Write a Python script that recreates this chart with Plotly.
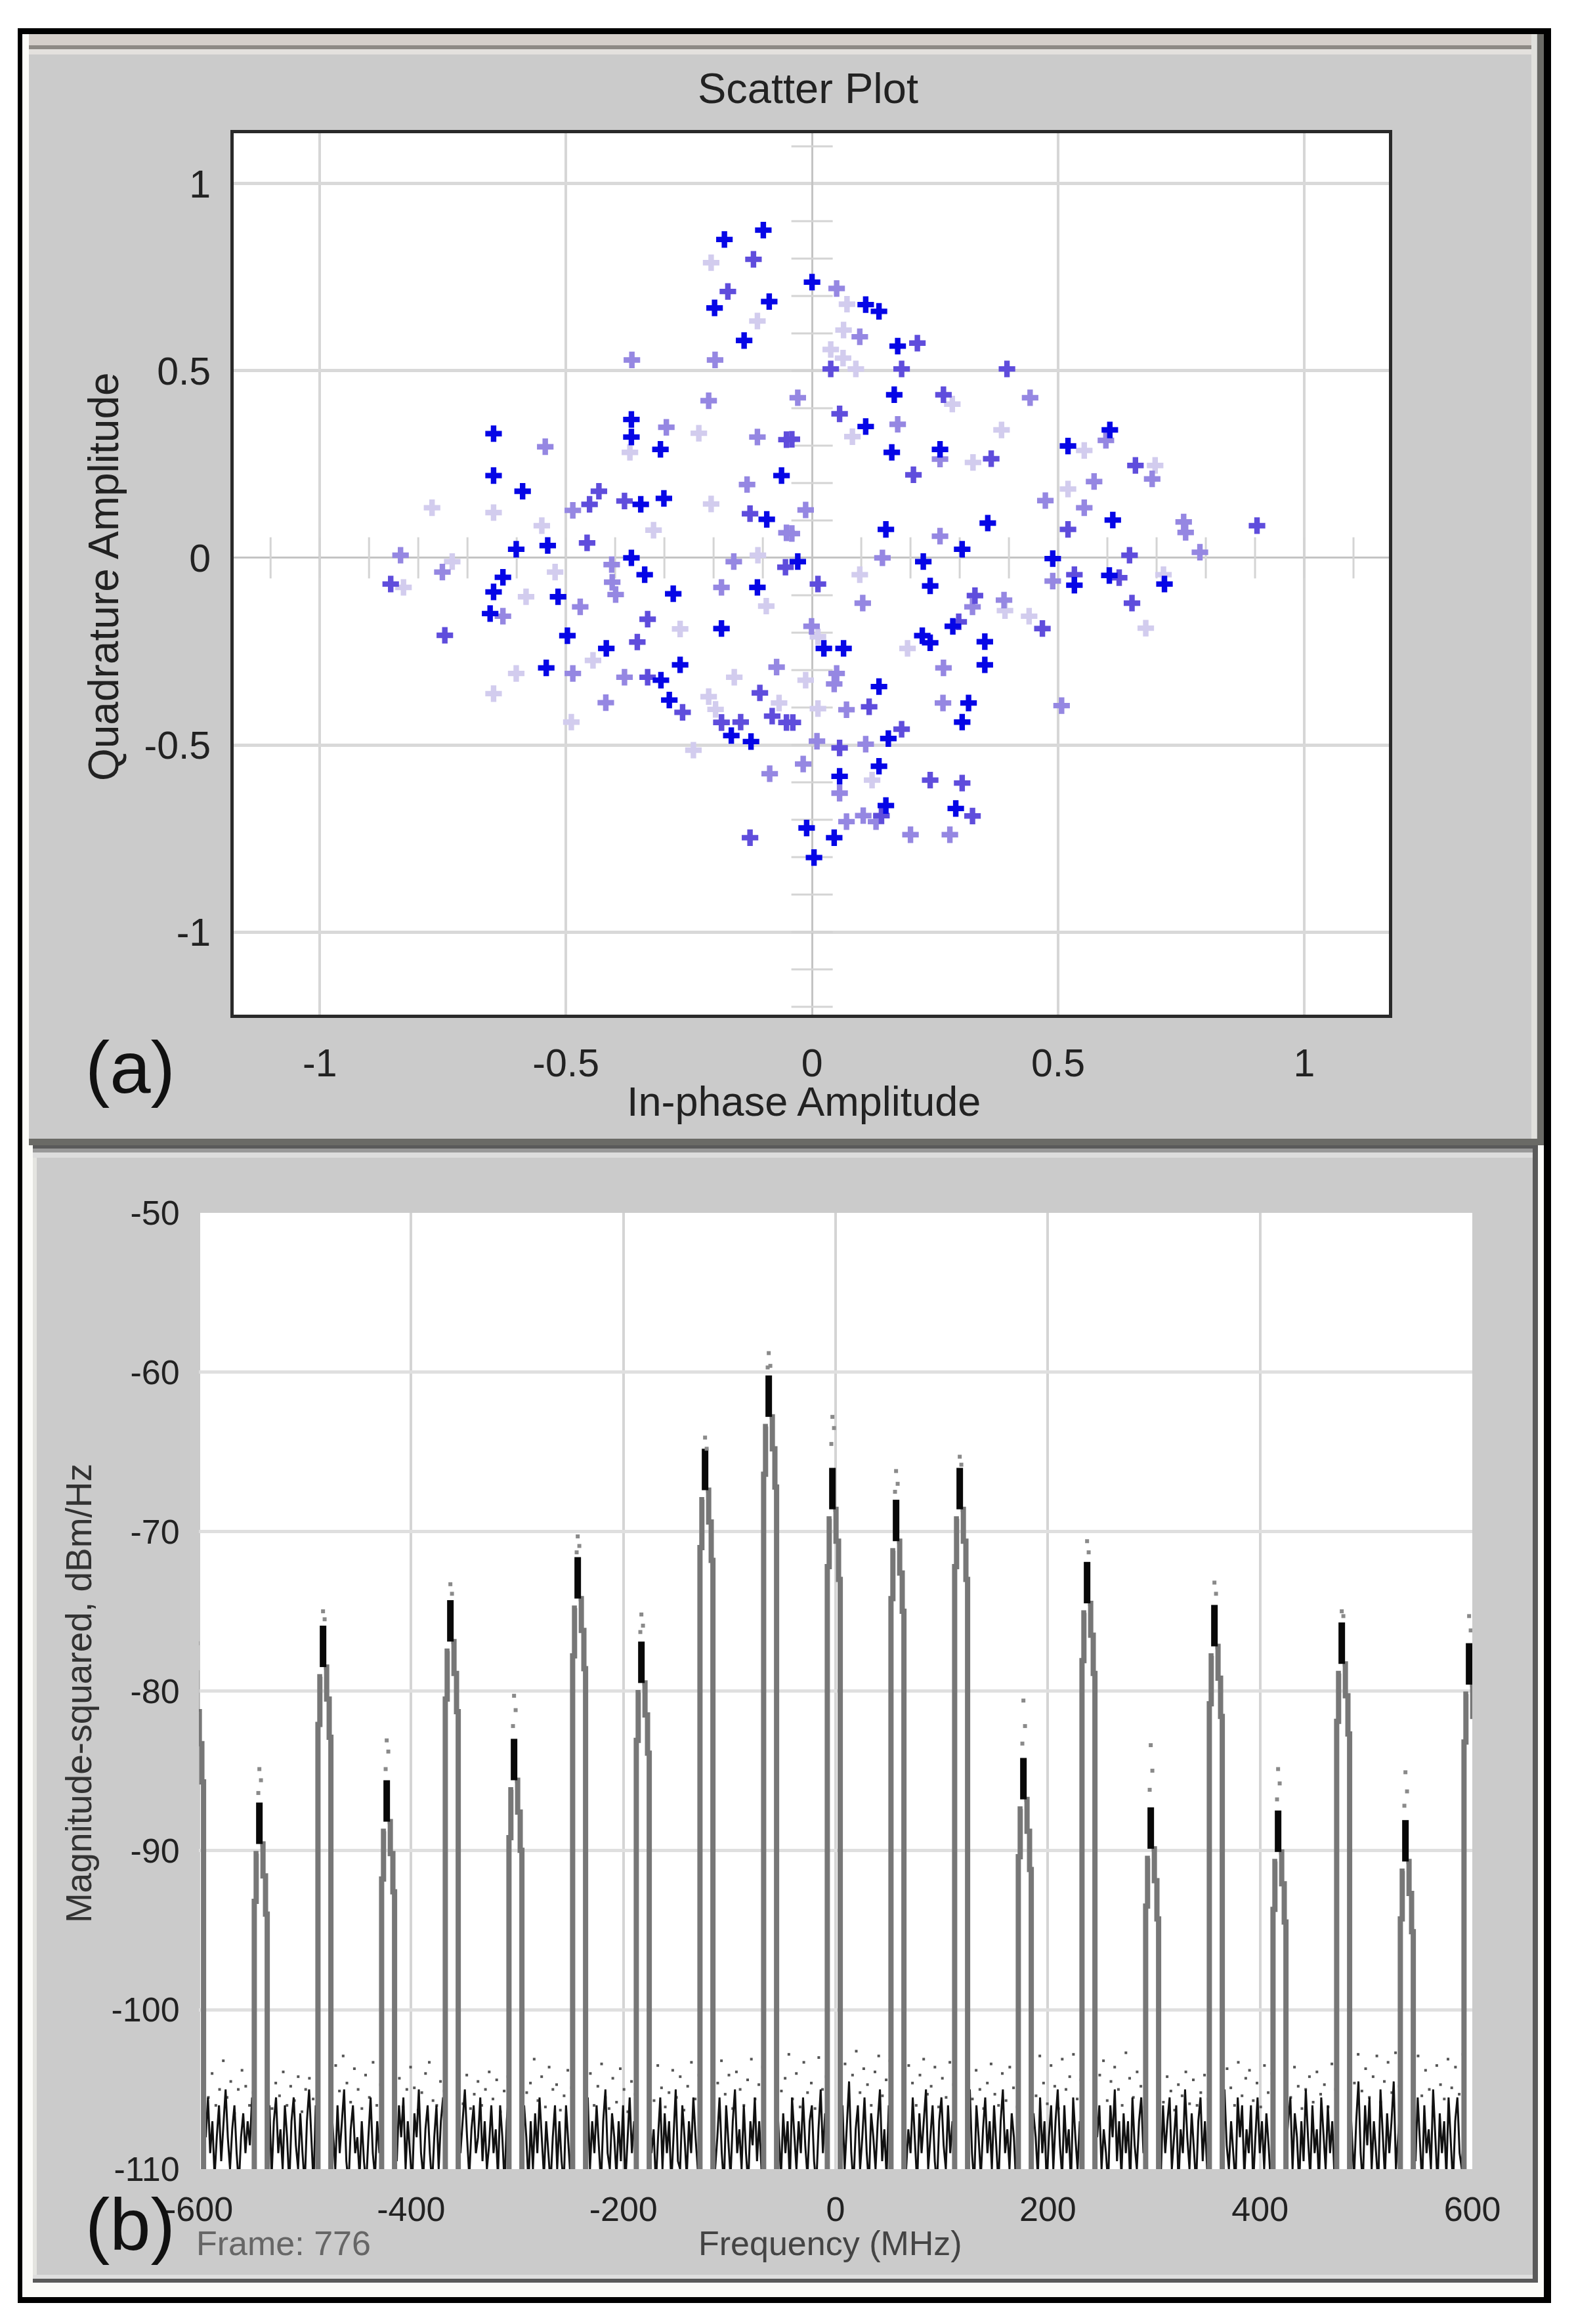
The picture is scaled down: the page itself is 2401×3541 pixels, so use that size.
import plotly.graph_objects as go
import numpy as np

W, H = 2401, 3541

# ---- (a) scatter plot: points, grouped by marker intensity
dark_x = [-.178,-.099,-.087,-.198,-.138,-.367,-.367,-.308,-.647,-.647,-.062,-.588,-.348,-.301,-.092,-.601,-.537,-.367,-.34,-.628,-.111,-.647,-.516,-.282,-.654,-.184,-.497,-.418,-.54,-.268,-.307,-.29,-.164,-.124,0,.109,.136,.174,.167,.109,.52,.605,.162,.611,.357,.15,.305,.489,.226,-.029,.604,.716,.24,.533,.286,.224,.24,.351,.024,.064,.351,.136,.318,.305,.155,.136,.056,.15,.292,-.011,.045,.004,.26]
dark_y = [.851,.876,.685,.668,.581,.37,.323,.29,.332,.22,.22,.178,.143,.159,.103,.023,.033,0,-.045,-.052,-.079,-.091,-.104,-.096,-.149,-.189,-.208,-.242,-.294,-.286,-.327,-.38,-.475,-.491,.737,.677,.659,.566,.436,.351,.299,.342,.282,.101,.093,.076,.023,-.002,-.01,-.01,-.047,-.07,-.075,-.073,-.183,-.208,-.227,-.224,-.242,-.242,-.286,-.344,-.388,-.439,-.483,-.557,-.584,-.662,-.67,-.722,-.748,-.801,.29]
mid_x = [-.119,-.171,-.052,-.433,-.452,-.381,-.126,-.457,-.054,-.856,-.334,-.746,-.355,-.334,-.106,-.263,-.081,-.145,-.184,-.126,-.052,.214,.038,.182,.396,.267,.056,-.041,.364,.657,.206,.904,.52,.645,.533,.624,.012,.331,.65,.468,.298,.116,-.039,.182,.056,.24,.305,.326,.141]
mid_y = [.798,.712,.316,.178,.143,.152,.118,.04,-.025,-.07,-.164,-.207,-.225,-.319,-.361,-.413,-.423,-.439,-.44,-.748,-.44,.574,.505,.505,.505,.436,.385,.317,.265,.247,.222,.086,.076,.007,-.045,-.053,-.07,-.101,-.121,-.189,-.171,-.398,-.44,-.458,-.508,-.594,-.602,-.69,-.689]
light_x = [-.366,-.197,-.21,-.296,-.111,-.542,-.132,-.486,-.052,-.836,-.751,-.407,-.159,-.406,-.399,-.184,-.471,-.628,-.486,-.381,-.072,-.419,-.184,-.086,.05,.097,.443,-.029,.174,.26,.691,.573,.474,.553,-.013,.755,.759,.26,-.041,.788,.489,.103,.326,.39,-.001,.267,.05,.045,.07,.266,.507,.01,.109,-.018,.056,.104,.07,.13,.2,.28,.143,.597]
light_y = [.529,.529,.42,.349,.323,.297,.196,.127,.067,.007,-.038,-.018,-.01,-.065,-.098,-.079,-.131,-.156,-.309,-.319,-.292,-.387,-.44,-.577,.72,.591,.428,.428,.357,.264,.211,.204,.153,.134,.128,.096,.068,.058,.065,.015,-.062,-.121,-.131,-.113,-.183,-.294,-.309,-.337,-.406,-.388,-.395,-.49,-.498,-.551,-.629,-.689,-.705,-.705,-.74,-.74,.0,.314]
faint_x = [-.205,-.111,-.23,-.37,-.205,-.772,-.647,-.549,-.322,-.731,-.522,-.11,-.83,-.581,-.093,-.268,-.445,-.601,-.158,-.647,-.21,-.067,-.196,-.489,-.241,.071,.064,.038,.063,.089,.285,.082,.385,.553,.327,.697,.52,.097,.714,.392,.441,.678,.012,.194,-.013,.012,.122]
faint_y = [.789,.633,.333,.282,.144,.134,.121,.086,.074,-.01,-.038,.007,-.079,-.104,-.129,-.19,-.274,-.309,-.319,-.363,-.371,-.388,-.405,-.439,-.514,.678,.609,.557,.534,.505,.411,.324,.342,.287,.255,.247,.184,-.045,-.045,-.141,-.156,-.188,-.211,-.242,-.327,-.403,-.594]
level_colors = ["#d2ccee", "#9587e2", "#5f4ddc", "#0606e6"]

tick_a_x = [-1.1,-1,-.9,-.8,-.7,-.6,-.5,-.4,-.3,-.2,-.1,.1,.2,.3,.4,.5,.6,.7,.8,.9,1,1.1]
tick_a_y = [1.1,.9,.8,.7,.6,.5,.4,.3,.2,.1,-.1,-.2,-.3,-.4,-.5,-.6,-.7,-.8,-.9,-1,-1.1,-1.2]

# ---- (b) spectrum: carrier peaks
peak_freq = [-603,-543,-483,-423,-363,-303,-243,-183,-123,-63,-3,57,117,177,237,297,357,417,477,537,597]
peak_top = [-78.7,-87,-75.9,-85.6,-74.3,-83,-71.6,-76.9,-64.8,-60.2,-66,-68,-66,-84.2,-71.9,-87.3,-74.6,-87.5,-75.7,-88.1,-77]

# dots that sit just above each peak (dB)
peak_dot_1 = [-75.6,-84.9,-75,-83.1,-73.3,-80.3,-70.3,-75.2,-64.1,-58.8,-62.8,-66.2,-65.3,-80.6,-70.6,-83.4,-73.2,-84.9,-75,-85.1,-75.3]
peak_dot_2 = [-77,-85.6,-75.5,-83.8,-73.9,-81.2,-70.9,-75.9,-64.8,-59.6,-63.5,-67,-65.8,-82.2,-71.3,-85,-73.9,-85.8,-75.3,-86.3,-76.2]
peak_dot_3 = [-78,-86.4,None,-84.9,None,-82.2,-71.3,-76.3,None,-59.7,-64.5,-67.5,None,-83.3,None,-86.2,None,-86.8,None,-87.2,None]

# ---- noise floor trace, one list per gap between neighbouring peaks (dB)
noise_floor = [
 [-106,-108,-105.5,-109,-107,-110.5,-108,-106,-109.5,-107,-105,-108,-110,-107.5,-106,-109,-111,-108,-106.5,-109,-107,-108.5,-105.5,-108],
 [-108,-106,-110.5,-107,-105.5,-109,-107.5,-110,-106,-108,-111,-107,-105.5,-108.5,-110,-106.5,-109,-111,-107,-105,-108,-111,-106,-109],
 [-105.5,-108,-110,-106,-109,-107,-105,-109.5,-111,-107.5,-106,-109,-108,-110.5,-107,-109.5,-111,-108,-105.5,-109,-110.5,-107,-109,-106],
 [-107,-109.5,-106,-108,-105.5,-110,-107,-109,-111,-106.5,-108,-105,-109,-110.5,-107.5,-106,-109,-111,-108,-106,-110,-107,-105.5,-108.5],
 [-106.5,-109,-107,-105,-108,-110.5,-107.5,-106,-109,-108,-105.5,-109.5,-107,-110,-108.5,-106,-109,-107.5,-110.5,-106,-108,-111,-107,-105],
 [-109,-106,-108,-111,-107,-110,-106.5,-109,-105.5,-108,-110.5,-107,-109,-111,-108,-106,-110,-107,-109.5,-111,-106,-108.5,-110.5,-105.5],
 [-108,-105.5,-110,-107,-109,-106,-108.5,-111,-107,-105,-109,-110,-106.5,-108,-110.5,-107,-109.5,-106,-111,-108,-105.5,-109,-107,-110],
 [-106,-109,-107.5,-111,-108,-105.5,-110,-106.5,-109,-107,-111,-108,-105,-109.5,-110,-106,-108,-110.5,-107,-109,-105.5,-108,-110,-107],
 [-107,-110,-108,-105.5,-109,-111,-106,-108.5,-110.5,-107,-105,-109,-107.5,-110,-106,-109,-111,-107,-108.5,-105.5,-109.5,-107,-110,-106],
 [-105,-108,-110.5,-106.5,-109,-107,-111,-105.5,-108,-110,-107,-109,-105.5,-108.5,-110.5,-107,-106,-109.5,-111,-107.5,-105,-109,-106.5,-108],
 [-108.5,-106,-110,-107,-104.5,-109,-111,-107.5,-106,-110,-108,-105.5,-109,-111,-106.5,-108,-110,-107,-105,-109.5,-107.5,-110.5,-106,-108],
 [-106,-110,-107.5,-109,-105.5,-108,-111,-106.5,-109,-107,-105,-110,-108,-106,-109.5,-111,-107,-105.5,-108.5,-110,-106,-109,-107,-110.5],
 [-107,-105,-109,-111,-106,-108,-110.5,-107.5,-105.5,-109,-107,-110,-106,-108.5,-111,-107,-105,-109,-107.5,-110,-106.5,-108,-111,-105.5],
 [-109,-106.5,-108,-110.5,-105.5,-109,-107,-111,-108,-106,-110,-107,-105,-108.5,-110.5,-106,-109,-107.5,-111,-105.5,-108,-110,-107,-109],
 [-105.5,-108,-106,-110,-107.5,-109,-111,-106,-108,-105,-109.5,-107,-110.5,-106.5,-109,-107,-111,-105.5,-108.5,-110,-107,-105.5,-109,-106.5],
 [-108,-110.5,-106,-109,-107,-105.5,-110,-108,-106,-111,-107.5,-109,-105,-108,-110,-106.5,-109,-111,-107,-105.5,-109.5,-107,-110,-106],
 [-106.5,-105,-108.5,-110,-107,-109,-111,-105.5,-108,-106,-110.5,-107.5,-109,-106,-111,-108,-105.5,-109,-107,-110,-106.5,-108.5,-111,-107],
 [-109,-107,-105.5,-110,-106.5,-108,-111,-107,-109.5,-105,-108,-110.5,-106,-109,-107.5,-111,-105.5,-108,-110,-106,-109,-107,-110.5,-105.5],
 [-105,-108,-110.5,-107,-104.5,-109,-111,-106,-108.5,-105.5,-110,-107,-109,-111,-105,-108,-110.5,-106.5,-109,-107,-104.5,-110,-108,-106],
 [-107,-109.5,-105.5,-108,-111,-106,-109,-107.5,-110,-105,-108,-111,-106.5,-109,-107,-110.5,-105.5,-108.5,-111,-107,-105.5,-109,-110,-107],
]

# ---- scattered dots above the noise floor, one list per gap (dB)
noise_dots = [
 [-104.5,-105.5,-104,-106,-105,-103.2,-105.5,-104.5,-106.5,-105,-103.8,-104.8,-106,-105.2],
 [-105,-106.2,-104.6,-105.4,-103.9,-106,-104.8,-105.7,-104.2,-106.4,-105,-104.3,-105.6,-106.1],
 [-104.2,-103.5,-105.1,-102.9,-104.6,-105.8,-103.7,-105,-106.2,-104.1,-105.5,-103.3,-106,-104.7],
 [-105.6,-104.3,-106.1,-105,-103.6,-104.9,-106.3,-105.2,-104,-103.3,-105.7,-106,-104.5,-105.1],
 [-104.7,-105.9,-104.1,-106.2,-105.3,-104.5,-106,-105,-103.9,-105.6,-104.4,-106.4,-105.1,-104.2],
 [-103.9,-105.2,-104.6,-103.1,-105.7,-104.2,-106.1,-103.6,-105,-104.7,-106.3,-105.4,-103.8,-104.9],
 [-105.2,-104,-106,-104.8,-103.4,-105.5,-106.2,-104.3,-105.8,-103.7,-105,-106.4,-104.5,-105.3],
 [-104.4,-105.7,-103.5,-104.9,-106.1,-105.2,-103.8,-105.5,-104.2,-106.3,-104.8,-103.3,-105.6,-104.1],
 [-105.8,-104.6,-103.2,-105.3,-104.1,-106.2,-103.9,-105,-106,-104.4,-103.1,-105.6,-104.7,-103.6],
 [-103.7,-105.1,-104.3,-102.8,-105.6,-104,-106.1,-103.3,-105.2,-104.6,-106.2,-103,-105,-104.2],
 [-104.9,-103.4,-105.8,-104.1,-102.6,-105.2,-103.7,-104.7,-106,-103.9,-102.9,-105.4,-104.4,-103.2],
 [-105,-103.5,-104.6,-106,-104.1,-103.1,-105.3,-104.8,-103.6,-106.1,-104.3,-105.5,-103.3,-104.7],
 [-104.2,-105.6,-103.8,-105,-106.2,-104.6,-103.4,-105.3,-106,-104,-105.7,-103.6,-104.9,-106.1],
 [-103.9,-105.4,-102.9,-104.6,-105.9,-103.5,-104.8,-106.2,-103.1,-105,-104.2,-102.8,-105.6,-104.4],
 [-105.3,-104.1,-103.2,-105.7,-104.5,-103.6,-105,-106,-102.7,-104.3,-105.5,-103.9,-104.8,-106.1],
 [-104.6,-105.8,-104.2,-105.1,-106.3,-104.7,-105.4,-103.9,-105.9,-104.4,-106,-105.2,-104.1,-105.6],
 [-105.1,-103.7,-104.9,-106,-103.3,-105.4,-104.3,-103.8,-105.7,-104.6,-106.1,-103.5,-105.2,-104],
 [-104,-105.5,-103.6,-104.8,-106.2,-105,-104.2,-105.8,-103.9,-105.3,-104.7,-106.1,-103.4,-105],
 [-103.2,-104.6,-102.8,-105.1,-103.7,-105.5,-104.2,-102.9,-105.8,-104.5,-103.3,-105.2,-102.7,-104.8],
 [-104.3,-102.9,-105.4,-103.8,-105,-106.1,-103.5,-104.7,-105.6,-103.1,-104.9,-103.6,-105.3,-102.8],
]

x_tick_b = [-600,-400,-200,0,200,400,600]
y_tick_b = [-50,-60,-70,-80,-90,-100,-110]
x_tick_a = [-1,-0.5,0,0.5,1]
y_tick_a = [1,0.5,0,-0.5,-1]

# ---- leg offsets of a peak, MHz from the carrier and dB from its top
leg_left = [(-4.8,-200),(-4.8,-6.2),(-3,-6.2),(-3,-3.2),(-0.8,-3.2)]
leg_right = [(0.8,-2.6),(3.4,-2.6),(3.4,-4.6),(5.8,-4.6),(5.8,-7),(7.4,-7),(7.4,-200)]
stem_depth = 2.6


def px(x): return x / W
def py(y): return 1 - y / H


fig = go.Figure()

# ---------------------------------------------------- panel (a) traces
tx, ty = [], []
for v in tick_a_x:
    tx += [v, v, None]; ty += [-0.055, 0.055, None]
for v in tick_a_y:
    tx += [-0.042, 0.042, None]; ty += [v, v, None]
fig.add_trace(go.Scatter(x=tx, y=ty, mode="lines", xaxis="x", yaxis="y",
                         line=dict(color="#d4d4d4", width=3), hoverinfo="skip", showlegend=False))
groups = [(faint_x, faint_y), (light_x, light_y), (mid_x, mid_y), (dark_x, dark_y)]
for (gx, gy), c in zip(groups, level_colors):
    fig.add_trace(go.Scatter(x=gx, y=gy, mode="markers", xaxis="x", yaxis="y", showlegend=False,
                             marker=dict(symbol="cross", size=21, color=c, line=dict(width=0))))

# ---------------------------------------------------- panel (b) traces
legs_x, legs_y, stem_x, stem_y = [], [], [], []
for f, t in zip(peak_freq, peak_top):
    for o, d in leg_left:
        legs_x.append(f + o); legs_y.append(t + d)
    legs_x.append(None); legs_y.append(None)
    for o, d in leg_right:
        legs_x.append(f + o); legs_y.append(t + d)
    legs_x.append(None); legs_y.append(None)
    stem_x += [f, f, None]; stem_y += [t, t - stem_depth, None]

nx, ny, dx, dy = [], [], [], []
for i, (vals, dots) in enumerate(zip(noise_floor, noise_dots)):
    lo, hi = peak_freq[i] + 7.4, peak_freq[i + 1] - 4.8
    nx += list(np.linspace(lo, hi, len(vals))) + [None]
    ny += vals + [None]
    dx += list(np.linspace(lo + 1, hi - 1, len(dots)))
    dy += dots

fig.add_trace(go.Scatter(x=dx, y=dy, mode="markers", xaxis="x2", yaxis="y2", showlegend=False,
                         marker=dict(symbol="square", size=4, color="#555555", line=dict(width=0))))
fig.add_trace(go.Scatter(x=nx, y=ny, mode="lines", xaxis="x2", yaxis="y2", showlegend=False,
                         line=dict(color="#111111", width=3)))
fig.add_trace(go.Scatter(x=legs_x, y=legs_y, mode="lines", xaxis="x2", yaxis="y2", showlegend=False,
                         line=dict(color="#777777", width=8)))
fig.add_trace(go.Scatter(x=stem_x, y=stem_y, mode="lines", xaxis="x2", yaxis="y2", showlegend=False,
                         line=dict(color="#080808", width=10)))
pd_x = list(peak_freq) * 3
pd_y = peak_dot_1 + peak_dot_2 + peak_dot_3
pd_x = [f + o for f, o in zip(pd_x, [0] * 21 + [1.5] * 21 + [-1] * 21)]
fig.add_trace(go.Scatter(x=pd_x, y=pd_y, mode="markers", xaxis="x2", yaxis="y2", showlegend=False,
                         marker=dict(symbol="square", size=6, color="#8a8a8a", line=dict(width=0))))

# ---------------------------------------------------- window chrome
def rect(x0, y0, x1, y1, fill):
    return dict(type="rect", xref="paper", yref="paper", layer="below",
                x0=px(x0), x1=px(x1), y0=py(y0), y1=py(y1),
                fillcolor=fill, line=dict(width=0))

shapes = [
    rect(27, 43, 2363, 3509, "#000000"),
    rect(34, 52, 2352, 3500, "#fbfbf8"),
    # panel a
    rect(44, 52, 2352, 1745, "#6a6a66"),
    rect(44, 52, 2342, 1735, "#cbcbcb"),
    rect(44, 52, 2333, 69, "#d5cfca"),
    rect(44, 69, 2333, 75, "#8e8a85"),
    rect(44, 75, 2333, 83, "#e4e1de"),
    rect(2333, 52, 2341, 1735, "#e0e0dc"),
    # panel b
    rect(50, 1745, 2343, 3478, "#5a5a5a"),
    rect(50, 1750, 2335, 3472, "#cbcbcb"),
    rect(50, 1750, 2335, 1756, "#999999"),
    rect(50, 1756, 2335, 1764, "#dddddd"),
    rect(50, 1764, 56, 3472, "#e4e4e0"),
    rect(50, 3466, 2335, 3472, "#dedede"),
    # plot backgrounds
    rect(356, 203, 2116, 1546, "#ffffff"),
    rect(305, 1848, 2243, 3305, "#ffffff"),
]

FONT = "Liberation Sans"


def label(text, x, y, size, color="#222222", angle=0):
    return dict(text=text, x=px(x), y=py(y), xref="paper", yref="paper", showarrow=False,
                xanchor="center", yanchor="middle", textangle=angle,
                font=dict(family=FONT, size=size, color=color))


annotations = [
    label("Scatter Plot", 1231, 135, 65),
    label("Quadrature Amplitude", 158, 879, 64, angle=-90),
    label("In-phase Amplitude", 1224, 1678, 63),
    label("(a)", 199, 1627, 112, "#111111"),
    label("Magnitude-squared, dBm/Hz", 120, 2580, 55, "#333333", angle=-90),
    label("Frequency (MHz)", 1265, 3418, 52, "#444444"),
    label("Frame: 776", 432, 3418, 52, "#666666"),
    label("(b)", 199, 3389, 112, "#111111"),
]


def fmt(v):
    return str(v)


fig.update_layout(
    width=W, height=H, margin=dict(l=0, r=0, t=0, b=0, pad=0, autoexpand=False),
    paper_bgcolor="#ffffff", plot_bgcolor="#ffffff", showlegend=False,
    font=dict(family=FONT, color="#222222"),
    shapes=shapes, annotations=annotations,
    xaxis=dict(domain=[px(356), px(2116)], range=[-1.175, 1.172], anchor="y",
               tickmode="array", tickvals=x_tick_a, ticktext=[fmt(v) for v in x_tick_a],
               tickfont=dict(size=59, family=FONT), ticks="outside", ticklen=18, tickcolor="rgba(0,0,0,0)",
               showgrid=True, gridcolor="#d6d6d6", gridwidth=4, zeroline=True, zerolinecolor="#c4c4c4",
               zerolinewidth=3, showline=True, mirror=True, linecolor="#2a2a2a", linewidth=5),
    yaxis=dict(domain=[py(1546), py(203)], range=[-1.221, 1.135], anchor="x",
               tickmode="array", tickvals=y_tick_a, ticktext=[fmt(v) for v in y_tick_a],
               tickfont=dict(size=59, family=FONT), ticks="outside", ticklen=18, tickcolor="rgba(0,0,0,0)",
               showgrid=True, gridcolor="#d9d9d9", gridwidth=5, zeroline=True, zerolinecolor="#c4c4c4",
               zerolinewidth=3, showline=True, mirror=True, linecolor="#2a2a2a", linewidth=5),
    xaxis2=dict(domain=[px(303), px(2243)], range=[-600, 600], anchor="y2",
                tickmode="array", tickvals=x_tick_b, ticktext=[fmt(v) for v in x_tick_b],
                tickfont=dict(size=52, family=FONT), ticks="outside", ticklen=16, tickcolor="rgba(0,0,0,0)",
                showgrid=True, gridcolor="#d4d4d4", gridwidth=4, zeroline=False, showline=False),
    yaxis2=dict(domain=[py(3305), py(1848)], range=[-110, -50], anchor="x2",
                tickmode="array", tickvals=y_tick_b, ticktext=[fmt(v) for v in y_tick_b],
                tickfont=dict(size=52, family=FONT), ticks="outside", ticklen=18, tickcolor="rgba(0,0,0,0)",
                showgrid=True, gridcolor="#dfdfdf", gridwidth=5, zeroline=False, showline=False),
)

fig.write_html("out.html", post_script="document.body.style.margin='0';document.documentElement.style.overflow='hidden';",
               config={"displayModeBar": False})
